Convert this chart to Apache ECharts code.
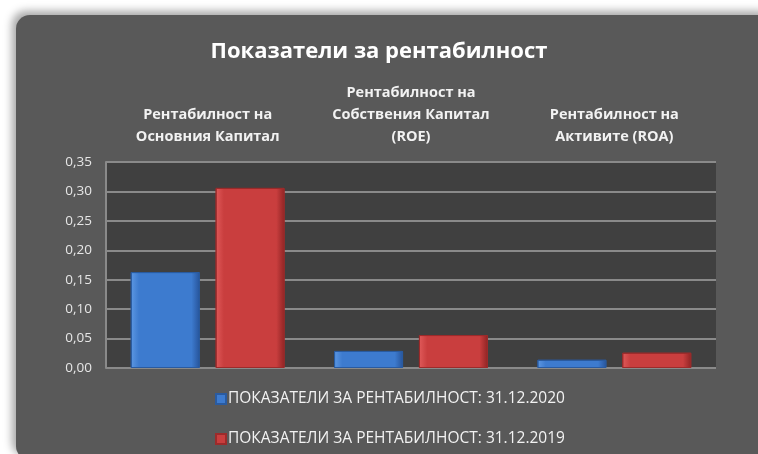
<!DOCTYPE html>
<html>
<head>
<meta charset="utf-8">
<script src="https://cdn.jsdelivr.net/npm/echarts@6/dist/echarts.min.js"></script>
<style>
  html, body { margin: 0; padding: 0; background: #ffffff; overflow: hidden; }
  #box {
    position: absolute; left: 16px; top: 15px; width: 760px; height: 445px;
    background: #595959; border-radius: 14px;
    box-shadow: -4px -4px 8px rgba(0, 0, 0, 0.35);
  }
  #main { position: absolute; left: 0; top: 0; width: 758px; height: 454px; }
</style>
</head>
<body>
<div id="box"></div>
<div id="main"></div>
<script>
// данни от графиката
var categories = [
  "Рентабилност на\nОсновния Капитал",
  "Рентабилност на\nСобствения Капитал\n(ROE)",
  "Рентабилност на\nАктивите (ROA)"
];
var seriesNames = [
  "ПОКАЗАТЕЛИ ЗА РЕНТАБИЛНОСТ: 31.12.2020",
  "ПОКАЗАТЕЛИ ЗА РЕНТАБИЛНОСТ: 31.12.2019"
];
var values2020 = [0.163, 0.029, 0.014];
var values2019 = [0.306, 0.056, 0.026];
var yTicks = [0, 0.05, 0.10, 0.15, 0.20, 0.25, 0.30, 0.35];

var font = "Open Sans";

function barColor(dark, mid, light) {
  return new echarts.graphic.LinearGradient(0, 0, 1, 0, [
    { offset: 0, color: light },
    { offset: 0.12, color: mid },
    { offset: 0.88, color: mid },
    { offset: 1, color: dark }
  ]);
}

var myChart = echarts.init(document.getElementById("main"));
var option = {
  backgroundColor: "transparent",
  title: {
    text: "Показатели за рентабилност",
    left: "center",
    top: 36,
    textStyle: { color: "#ffffff", fontFamily: font, fontWeight: "bold", fontSize: 22 }
  },
  legend: {
    orient: "vertical",
    left: 210,
    top: 386,
    itemWidth: 10,
    itemHeight: 10,
    itemGap: 24,
    icon: "rect",
    textStyle: { color: "#f2f2f2", fontFamily: font, fontSize: 15.5, padding: [0, 0, 0, -3] },
    data: seriesNames
  },
  grid: {
    left: 106,
    top: 162,
    width: 610,
    height: 206,
    show: true,
    backgroundColor: "#404040",
    borderWidth: 0
  },
  xAxis: {
    type: "category",
    position: "top",
    data: categories,
    axisTick: { show: false },
    axisLine: { show: false },
    axisLabel: {
      interval: 0,
      margin: 14,
      color: "#f2f2f2",
      fontFamily: font,
      fontWeight: "bold",
      fontSize: 14.5,
      lineHeight: 22
    }
  },
  yAxis: {
    type: "value",
    min: 0,
    max: 0.35,
    interval: 0.05,
    axisTick: { show: false },
    axisLine: { show: true, lineStyle: { color: "#8a8a8a", width: 2 } },
    splitLine: { show: true, lineStyle: { color: "#8a8a8a", width: 2 } },
    axisLabel: {
      margin: 14,
      color: "#e6e6e6",
      fontFamily: font,
      fontSize: 13.5,
      formatter: function (v) {
        return v.toFixed(2).replace(".", ",");
      }
    }
  },
  series: [
    {
      name: seriesNames[0],
      type: "bar",
      data: values2020,
      barWidth: 69,
      barGap: "23%",
      itemStyle: {
        color: barColor("#27549a", "#3d7bcf", "#5d98e3"),
        borderColor: "#2a5ba0",
        borderWidth: 1
      }
    },
    {
      name: seriesNames[1],
      type: "bar",
      data: values2019,
      barWidth: 69,
      barGap: "23%",
      itemStyle: {
        color: barColor("#8e2424", "#c93e3e", "#e05a5a"),
        borderColor: "#9c2b2b",
        borderWidth: 1
      }
    }
  ]
};
myChart.setOption(option);
window.addEventListener("resize", function () {
  myChart.resize();
});
</script>
</body>
</html>
